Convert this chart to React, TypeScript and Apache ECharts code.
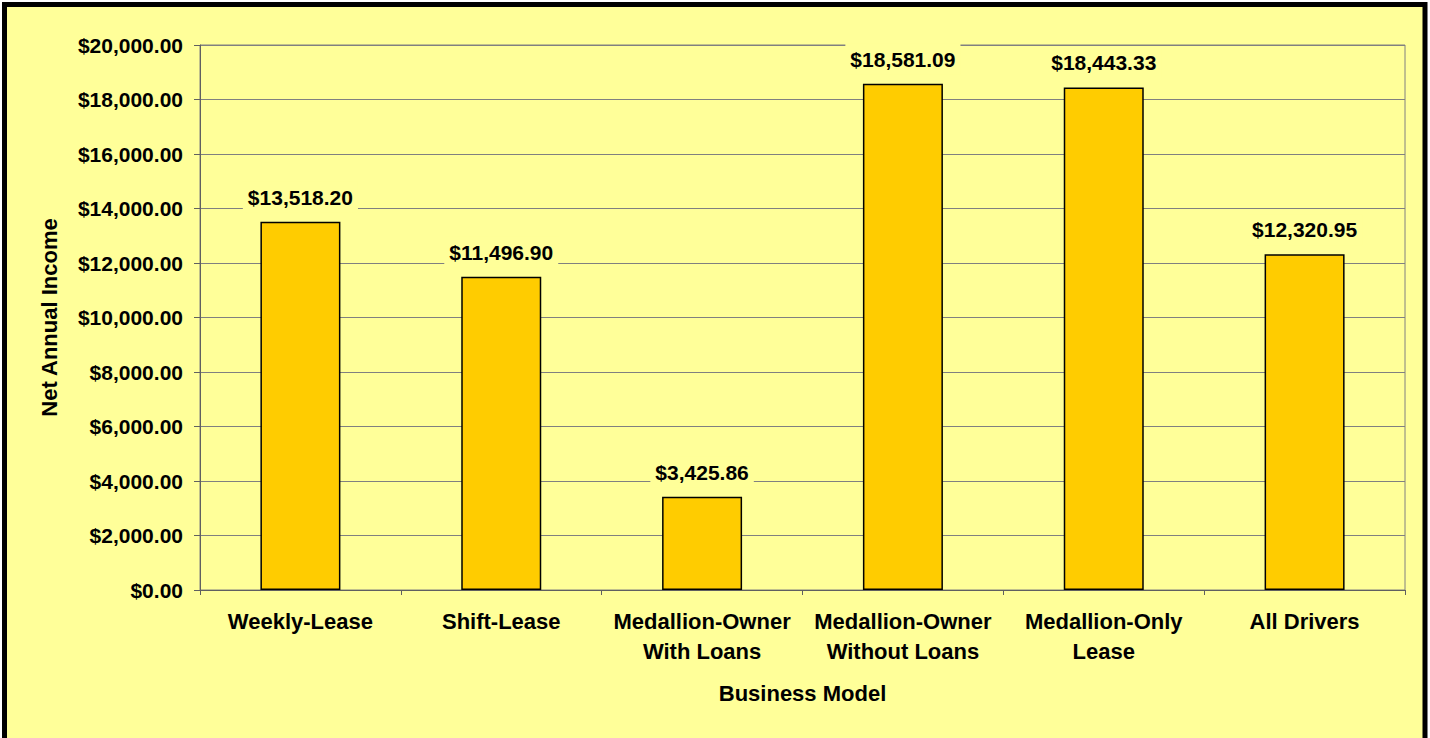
import React, { useEffect, useRef } from "react";
import * as echarts from "echarts";

const categories = [
  "Weekly-Lease",
  "Shift-Lease",
  "Medallion-Owner\nWith Loans",
  "Medallion-Owner\nWithout Loans",
  "Medallion-Only\nLease",
  "All Drivers",
];
const incomeValues = [13518.2, 11496.9, 3425.86, 18581.09, 18443.33, 12320.95];
const yAxisTitle = "Net Annual Income";
const xAxisTitle = "Business Model";

const FONT = "'Liberation Sans', Arial, sans-serif";
const money = (v: number) =>
  "$" + v.toLocaleString("en-US", { minimumFractionDigits: 2, maximumFractionDigits: 2 });

export default function App() {
  const ref = useRef<HTMLDivElement>(null);
  useEffect(() => {
    if (!ref.current) return;
    const chart = echarts.init(ref.current, null, { renderer: "svg" });
    chart.setOption({
      animation: false,
      backgroundColor: "#ffffff",
      graphic: [
        {
          type: "rect",
          z: -10,
          silent: true,
          shape: { x: 4.5, y: 4.5, width: 1420.5, height: 745 },
          style: { fill: "#FFFF99", stroke: "#000000", lineWidth: 5 },
        },
      ],
      grid: {
        left: 200,
        right: 25,
        top: 45,
        bottom: 148,
        show: true,
        backgroundColor: "transparent",
        borderColor: "#808080",
        borderWidth: 1,
      },
      xAxis: {
        type: "category",
        data: categories,
        name: xAxisTitle,
        nameLocation: "middle",
        nameGap: 92,
        nameTextStyle: { fontFamily: FONT, fontWeight: "bold", fontSize: 22, color: "#000" },
        axisLine: { lineStyle: { color: "#606060", width: 1 } },
        axisTick: { show: true, length: 5, lineStyle: { color: "#606060" } },
        axisLabel: {
          interval: 0,
          margin: 16,
          fontFamily: FONT,
          fontWeight: "bold",
          fontSize: 22,
          lineHeight: 30,
          color: "#000",
        },
      },
      yAxis: {
        type: "value",
        min: 0,
        max: 20000,
        interval: 2000,
        name: yAxisTitle,
        nameLocation: "middle",
        nameRotate: 90,
        nameGap: 140,
        nameTextStyle: { fontFamily: FONT, fontWeight: "bold", fontSize: 22, color: "#000" },
        axisLine: { show: true, lineStyle: { color: "#606060", width: 1 } },
        axisTick: { show: true, length: 6, lineStyle: { color: "#606060" } },
        axisLabel: {
          margin: 17,
          fontFamily: FONT,
          fontWeight: "bold",
          fontSize: 21,
          color: "#000",
          formatter: (v: number) => money(v),
        },
        splitLine: { show: true, lineStyle: { color: "#808080", width: 1 } },
      },
      series: [
        {
          type: "bar",
          data: incomeValues,
          barWidth: 80,
          itemStyle: { color: "#FFCC00", borderColor: "#000000", borderWidth: 1.5 },
          label: {
            show: true,
            position: "top",
            distance: 9,
            formatter: (p: any) => money(p.value),
            fontFamily: FONT,
            fontWeight: "bold",
            fontSize: 21,
            color: "#000",
            backgroundColor: "#FFFF99",
            padding: [5, 5],
          },
        },
      ],
    });
    return () => chart.dispose();
  }, []);
  return (
    <div
      ref={ref}
      style={{ position: "fixed", left: 0, top: 0, width: 1430, height: 738 }}
    />
  );
}
